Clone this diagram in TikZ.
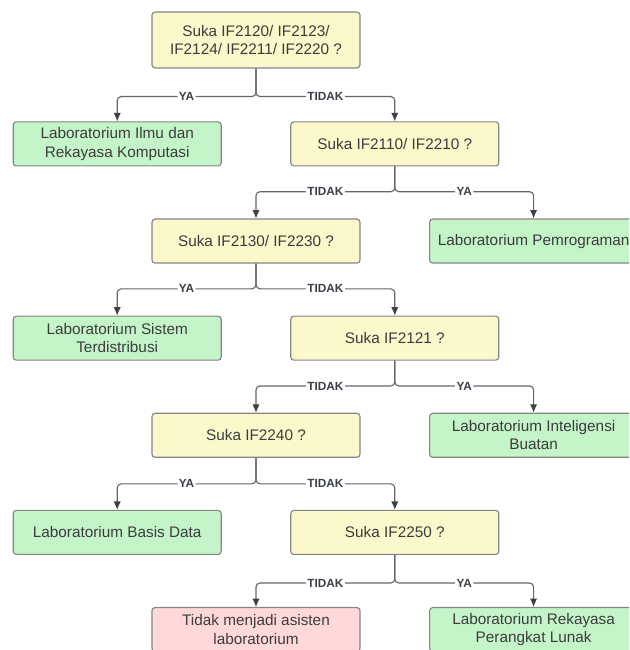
\documentclass[tikz,border=0pt]{standalone}
\usepackage{fontspec}
\setmainfont{Liberation Sans}
\usetikzlibrary{positioning,arrows.meta}

\definecolor{qfill}{HTML}{FBF8CB}
\definecolor{labfill}{HTML}{C4F5C8}
\definecolor{nofill}{HTML}{FFD9D9}
\definecolor{boxline}{HTML}{858585}
\definecolor{linegray}{HTML}{63666B}
\definecolor{arrdark}{HTML}{3B4049}
\definecolor{textgray}{HTML}{3C3C3C}

\begin{document}
\begin{tikzpicture}[font=\fontsize{10.9}{13}\selectfont,
	box/.style={draw=boxline, line width=0.8pt, rounded corners=2.2pt,
		text=textgray, align=center, inner sep=2pt,
		minimum width=5.2cm, minimum height=1.1cm},
	question/.style={box, fill=qfill},
	lab/.style={box, fill=labfill},
	nolab/.style={box, fill=nofill},
	link/.style={draw=linegray, line width=0.8pt, rounded corners=0.1cm,
		-{Latex[length=2.1mm,width=1.8mm,color=arrdark]}},
	answer/.style={fill=white, inner sep=1pt, text=arrdark,
		font=\fontsize{8.4}{9}\selectfont\bfseries}]
		\clip (-6.4,1.0) rectangle (9.325,-15.25);

		\node[question, minimum height=1.4cm] (q-if2120) at (0,0)
			{Suka IF2120/ IF2123/\\IF2124/ IF2211/ IF2220 ?};

		\node[lab, below=1.32cm of q-if2120, xshift=-3.47cm] (lab-ilmu)
			{Laboratorium Ilmu dan\\Rekayasa Komputasi};
		\node[question, below=1.32cm of q-if2120, xshift=3.47cm] (q-if2110)
			{Suka IF2110/ IF2210 ?};

		\node[question, below=1.3cm of q-if2110, xshift=-3.47cm] (q-if2130)
			{Suka IF2130/ IF2230 ?};
		\node[lab, below=1.3cm of q-if2110, xshift=3.47cm] (lab-prog)
			{Laboratorium Pemrograman};

		\node[lab, below=1.3cm of q-if2130, xshift=-3.47cm] (lab-sister)
			{Laboratorium Sistem\\Terdistribusi};
		\node[question, below=1.3cm of q-if2130, xshift=3.47cm] (q-if2121)
			{Suka IF2121 ?};

		\node[question, below=1.3cm of q-if2121, xshift=-3.47cm] (q-if2240)
			{Suka IF2240 ?};
		\node[lab, below=1.3cm of q-if2121, xshift=3.47cm] (lab-ai)
			{Laboratorium Inteligensi\\Buatan};

		\node[lab, below=1.3cm of q-if2240, xshift=-3.47cm] (lab-basdat)
			{Laboratorium Basis Data};
		\node[question, below=1.3cm of q-if2240, xshift=3.47cm] (q-if2250)
			{Suka IF2250 ?};

		\node[nolab, below=1.3cm of q-if2250, xshift=-3.47cm] (no-asisten)
			{Tidak menjadi asisten\\laboratorium};
		\node[lab, below=1.3cm of q-if2250, xshift=3.47cm] (lab-rpl)
			{Laboratorium Rekayasa\\Perangkat Lunak};

		% cabang tiap pertanyaan
		\draw[link] (q-if2120.south) -- ++(0,-0.7) -| node[answer,pos=0.25]{YA} (lab-ilmu.north);
		\draw[link] (q-if2120.south) -- ++(0,-0.7) -| node[answer,pos=0.25]{TIDAK} (q-if2110.north);

		\draw[link] (q-if2110.south) -- ++(0,-0.63) -| node[answer,pos=0.25]{TIDAK} (q-if2130.north);
		\draw[link] (q-if2110.south) -- ++(0,-0.63) -| node[answer,pos=0.25]{YA} (lab-prog.north);

		\draw[link] (q-if2130.south) -- ++(0,-0.63) -| node[answer,pos=0.25]{YA} (lab-sister.north);
		\draw[link] (q-if2130.south) -- ++(0,-0.63) -| node[answer,pos=0.25]{TIDAK} (q-if2121.north);

		\draw[link] (q-if2121.south) -- ++(0,-0.63) -| node[answer,pos=0.25]{TIDAK} (q-if2240.north);
		\draw[link] (q-if2121.south) -- ++(0,-0.63) -| node[answer,pos=0.25]{YA} (lab-ai.north);

		\draw[link] (q-if2240.south) -- ++(0,-0.65) -| node[answer,pos=0.25]{YA} (lab-basdat.north);
		\draw[link] (q-if2240.south) -- ++(0,-0.65) -| node[answer,pos=0.25]{TIDAK} (q-if2250.north);

		\draw[link] (q-if2250.south) -- ++(0,-0.7) -| node[answer,pos=0.25]{TIDAK} (no-asisten.north);
		\draw[link] (q-if2250.south) -- ++(0,-0.7) -| node[answer,pos=0.25]{YA} (lab-rpl.north);
	\end{tikzpicture}
\end{document}
